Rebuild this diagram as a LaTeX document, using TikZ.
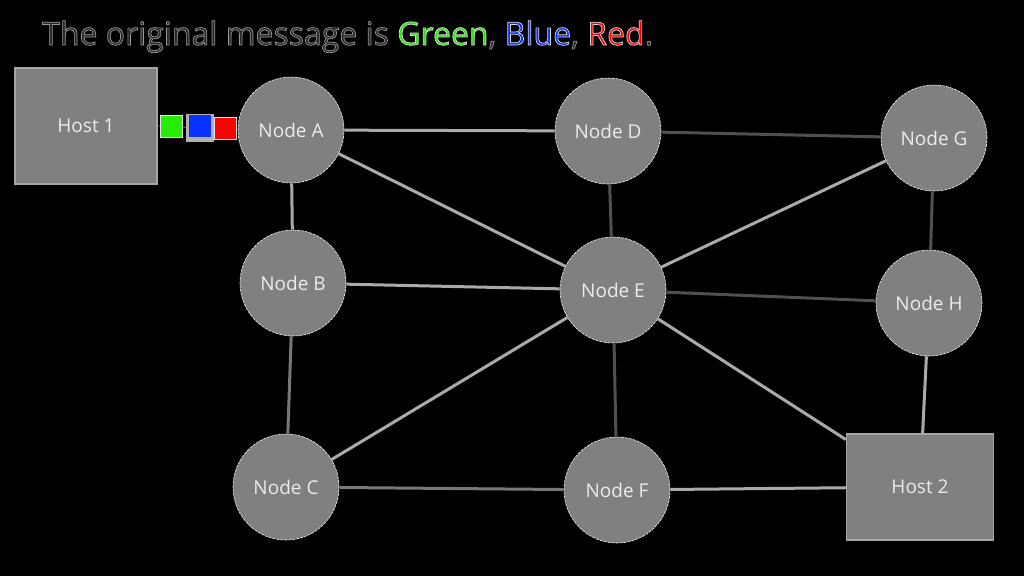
\documentclass[tikz,border=0pt]{standalone}
\usepackage{fontspec}
\setmainfont{Open Sans}
\definecolor{nodegray}{RGB}{128,128,128}
\definecolor{lightedge}{RGB}{170,170,170}
\definecolor{darkedge}{RGB}{80,80,80}
\definecolor{midedge}{RGB}{120,120,120}
\definecolor{labelcol}{RGB}{235,235,235}
\definecolor{titlecol}{RGB}{40,40,40}
\definecolor{pgreen}{RGB}{40,235,10}
\definecolor{pblue}{RGB}{10,50,255}
\definecolor{pred}{RGB}{255,0,0}
\newcommand{\outlineon}{\special{pdf:code 2 Tr 0.7 w 0.6 G}}
\newcommand{\outlineoff}{\special{pdf:code 0 Tr}}
\begin{document}
\begin{tikzpicture}[x=1pt,y=-1pt,
  router/.style={circle,fill=nodegray,draw=white!90!gray,line width=0.6pt,dash pattern=on 3pt off 1pt,minimum size=106pt,inner sep=0pt,text=labelcol,font=\fontsize{19}{22}\selectfont},
  hostbox/.style={rectangle,fill=nodegray,draw=gray!70!white,line width=1.5pt,inner sep=0pt,text=labelcol,font=\fontsize{19}{22}\selectfont},
  packet/.style={rectangle,minimum size=22pt,inner sep=0pt,draw=white!80!gray,line width=0.8pt},
  ledge/.style={draw=lightedge,line width=3pt},
  dedge/.style={draw=darkedge,line width=3pt},
  medge/.style={draw=midedge,line width=3pt}]
\fill[black] (0,0) rectangle (1024,576);
\useasboundingbox (0,0) rectangle (1024,576);

\node[anchor=base west,text=titlecol,font=\fontsize{32}{36}\selectfont,inner sep=0pt] (title) at (42,45)
  {\outlineon The original message is \textcolor{pgreen}{\special{pdf:code 0.85 G}Green}\special{pdf:code 0.6 G}, \textcolor{pblue}{\special{pdf:code 0.85 G}Blue}\special{pdf:code 0.6 G}, \textcolor{pred}{\special{pdf:code 0.85 G}Red}\special{pdf:code 0.6 G}.\outlineoff};

\node[hostbox,minimum width=142pt,minimum height=116pt] (h1) at (86,126) {Host 1};
\node[hostbox,minimum width=147pt,minimum height=106pt] (h2) at (920,487) {Host 2};

\node[router] (A) at (291,130) {Node A};
\node[router] (D) at (608,131) {Node D};
\node[router] (G) at (934,138) {Node G};
\node[router] (B) at (293,283) {Node B};
\node[router] (E) at (613,290) {Node E};
\node[router] (H) at (929,303) {Node H};
\node[router] (C) at (286,487) {Node C};
\node[router] (F) at (617,490) {Node F};

\path[ledge] (A) -- (D);
\path[dedge] (D) -- (G);
\path[ledge] (A) -- (B);
\path[ledge] (A) -- (E);
\path[dedge] (D) -- (E);
\path[ledge] (G) -- (E);
\path[dedge] (G) -- (H);
\path[ledge] (B) -- (E);
\path[dedge] (E) -- (H);
\path[medge] (B) -- (C);
\path[ledge] (C) -- (E);
\path[dedge] (E) -- (F);
\path[ledge] (E) -- (h2);
\path[ledge] (H) -- (h2);
\path[medge] (C) -- (F);
\path[ledge] (F) -- (h2);

\draw[darkedge,line width=1pt] (h1.east) -- (A.west);
\node[packet,fill=pgreen] (pg) at (171,126) {};
\fill[gray!60] (186,114) rectangle (214,142);
\node[packet,fill=pblue,draw=none] (pb) at (200,126) {};
\node[packet,fill=pred] (pr) at (225,128) {};
\end{tikzpicture}
\end{document}
